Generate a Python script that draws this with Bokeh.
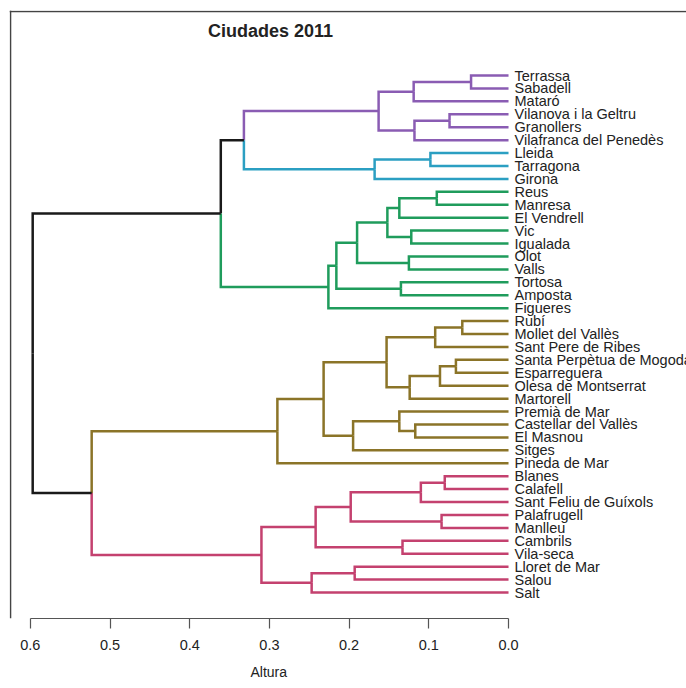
from bokeh.plotting import figure
from bokeh.models import Range1d, LinearAxis, FixedTicker, NumeralTickFormatter, Span, Label, Title, ColumnDataSource
from bokeh.core.properties import value
from bokeh.embed import file_html
from bokeh.resources import INLINE

# ---- data -------------------------------------------------------------
leaves = ["Terrassa", "Sabadell", "Mataró", "Vilanova i la Geltru", "Granollers",
          "Vilafranca del Penedès", "Lleida", "Tarragona", "Girona", "Reus", "Manresa",
          "El Vendrell", "Vic", "Igualada", "Olot", "Valls", "Tortosa", "Amposta",
          "Figueres", "Rubí", "Mollet del Vallès", "Sant Pere de Ribes",
          "Santa Perpètua de Mogoda", "Esparreguera", "Olesa de Montserrat", "Martorell",
          "Premià de Mar", "Castellar del Vallès", "El Masnou", "Sitges", "Pineda de Mar",
          "Blanes", "Calafell", "Sant Feliu de Guíxols", "Palafrugell", "Manlleu",
          "Cambrils", "Vila-seca", "Lloret de Mar", "Salou", "Salt"]

leaf_cluster = [0]*6 + [1]*3 + [2]*10 + [3]*12 + [4]*10
cluster_colors = ["#8a5cb3", "#2b9fc2", "#1f9c5c", "#8b7428", "#c4416f"]

# merges: ids < 41 are leaves, id 41+k is merge k
merge_left = [0, 41, 3, 43, 42, 6, 46, 45,
              9, 49, 12, 50, 14, 52, 16, 54, 56, 48,
              19, 59, 22, 61, 62, 60, 27, 26, 66, 64, 68,
              31, 70, 34, 71, 36, 73, 38, 76, 75, 69, 58]
merge_right = [1, 2, 4, 5, 44, 7, 8, 47,
               10, 11, 13, 51, 15, 53, 17, 55, 18, 57,
               20, 21, 23, 24, 25, 63, 28, 65, 29, 67, 30,
               32, 33, 35, 72, 37, 74, 39, 40, 77, 78, 79]
merge_height = [0.047, 0.119, 0.074, 0.118, 0.163, 0.098, 0.168, 0.332,
                0.090, 0.137, 0.122, 0.152, 0.125, 0.190, 0.135, 0.216, 0.226, 0.361,
                0.058, 0.092, 0.066, 0.086, 0.124, 0.153, 0.117, 0.137, 0.195, 0.232, 0.290,
                0.080, 0.110, 0.084, 0.198, 0.133, 0.242, 0.193, 0.247, 0.310, 0.523, 0.597]

axis_ticks = [0.0, 0.1, 0.2, 0.3, 0.4, 0.5, 0.6]

# ---- build dendrogram geometry ------------------------------------------
n = len(leaves)
node_h = [0.0]*n
node_y = [float(i) for i in range(n)]
node_col = [cluster_colors[c] for c in leaf_cluster]
xs, ys, cols = [], [], []
for a, b, h in zip(merge_left, merge_right, merge_height):
    ym = (node_y[a] + node_y[b]) / 2.0
    for c in (a, b):
        xs.append([h, h, node_h[c]])
        ys.append([ym, node_y[c], node_y[c]])
        cols.append(node_col[c])
    node_h.append(h)
    node_y.append(ym)
    node_col.append(node_col[a] if node_col[a] == node_col[b] else "#1a1a1a")

FONT = "Liberation Sans"

p = figure(width=686, height=688, output_backend="svg", toolbar_location=None,
           x_range=Range1d(0.6261, -0.2233), y_range=Range1d(42.01, -5.029),
           min_border_left=9, min_border_right=0, min_border_top=10, min_border_bottom=70,
           x_axis_location=None, y_axis_location=None)
p.grid.visible = False
p.outline_line_color = None
p.background_fill_color = "white"
p.border_fill_color = "white"

src = ColumnDataSource(dict(xs=xs, ys=ys, color=cols))
p.multi_line(xs="xs", ys="ys", line_color="color", source=src, line_width=2.5,
             line_join="miter")

p.text(x=[0.0]*n, y=list(range(n)), text=leaves, x_offset=6,
       text_baseline="middle", text_align="left", text_font=value(FONT),
       text_font_size="14.5px", text_color="#222222")

p.add_layout(Label(x=0.2986, y=-3.48, text="Ciudades 2011", text_align="center",
                   text_baseline="middle", text_font=FONT, text_font_size="18px",
                   text_font_style="bold", text_color="#222222"))

# frame border (left and top)
p.add_layout(Span(location=0.6248, dimension="height", line_color="#444444", line_width=1.5))
p.add_layout(Span(location=-4.952, dimension="width", line_color="#444444", line_width=1.5))

ax = LinearAxis(ticker=FixedTicker(ticks=axis_ticks), formatter=NumeralTickFormatter(format="0.0"),
                bounds=(0.0, 0.6))
ax.axis_line_color = "#555555"
ax.axis_line_width = 1.2
ax.major_tick_line_color = "#555555"
ax.major_tick_line_width = 1.2
ax.major_tick_in = 0
ax.major_tick_out = 10
ax.minor_tick_line_color = None
ax.major_label_standoff = 11
ax.major_label_text_font = FONT
ax.major_label_text_font_size = "14.5px"
ax.major_label_text_color = "#222222"
p.add_layout(ax, "below")

p.add_layout(Title(text="Altura", align="left", offset=241, standoff=18,
                   text_font=FONT, text_font_size="14px", text_font_style="normal",
                   text_color="#222222"), "below")

open("out.html", "w").write(file_html(p, INLINE))
